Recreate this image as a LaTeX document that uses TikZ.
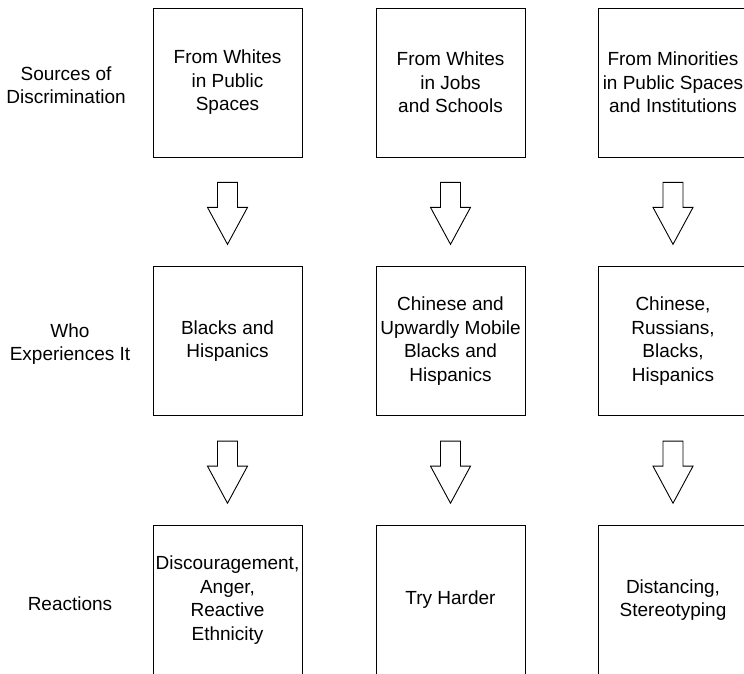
\documentclass[tikz,border=0pt]{standalone}
\usepackage{fontspec}
\setmainfont{Liberation Sans}
\usetikzlibrary{calc}

\tikzset{
    box/.style={draw, line width=0.9pt, minimum width=149pt, minimum height=149pt,
        inner sep=0pt, align=center, font=\fontsize{19}{23.5}\selectfont},
    rowlabel/.style={align=center, inner sep=0pt, font=\fontsize{19}{22.5}\selectfont},
    blockarrow/.style={draw, line width=0.9pt, fill=white, line join=miter}
}

% hollow down arrow in the gap between two boxes
\newcommand{\flowarrow}[2]{%
    \path ($(#1.south)!0.23!(#2.north)$) coordinate (top)
          ($(#1.south)!0.46!(#2.north)$) coordinate (neck)
          ($(#1.south)!0.80!(#2.north)$) coordinate (tip);
    \draw[blockarrow]
        ($(top)+(-10,0)$) -- ($(top)+(10,0)$) -- ($(neck)+(10,0)$)
        -- ($(neck)+(20,0)$) -- (tip) -- ($(neck)+(-20,0)$)
        -- ($(neck)+(-10,0)$) -- cycle;}

\begin{document}
\begin{tikzpicture}[x=1pt, y=1pt]
    \useasboundingbox (0, 0) rectangle (744, -673);
    \clip (0, 0) rectangle (744, -673);

    % row labels
    \node[rowlabel] (lsrc) at (66, -85) {Sources of\\Discrimination};
    \node[rowlabel] (lwho) at (70, -344) {Who\\Experiences It};
    \node[rowlabel] (lrea) at (70, -604) {Reactions};

    % sources
    \node[box] (src1) at (227.5, -82.5) {From Whites\\in Public\\Spaces};
    \node[box] (src2) at (450.5, -82.5) {From Whites\\in Jobs\\and Schools};
    \node[box] (src3) at (673, -82.5) {From Minorities\\in Public Spaces\\and Institutions};

    % who experiences it
    \node[box] (who1) at (227.5, -341) {Blacks and\\Hispanics};
    \node[box] (who2) at (450.5, -341) {Chinese and\\Upwardly Mobile\\Blacks and\\Hispanics};
    \node[box] (who3) at (673, -341) {Chinese,\\Russians,\\Blacks,\\Hispanics};

    % reactions
    \node[box] (rea1) at (227.5, -600) {Discouragement,\\Anger,\\Reactive\\Ethnicity};
    \node[box] (rea2) at (450.5, -600) {Try Harder};
    \node[box] (rea3) at (673, -600) {Distancing,\\Stereotyping};

    \flowarrow{src1}{who1}
    \flowarrow{src2}{who2}
    \flowarrow{src3}{who3}
    \flowarrow{who1}{rea1}
    \flowarrow{who2}{rea2}
    \flowarrow{who3}{rea3}
\end{tikzpicture}
\end{document}
